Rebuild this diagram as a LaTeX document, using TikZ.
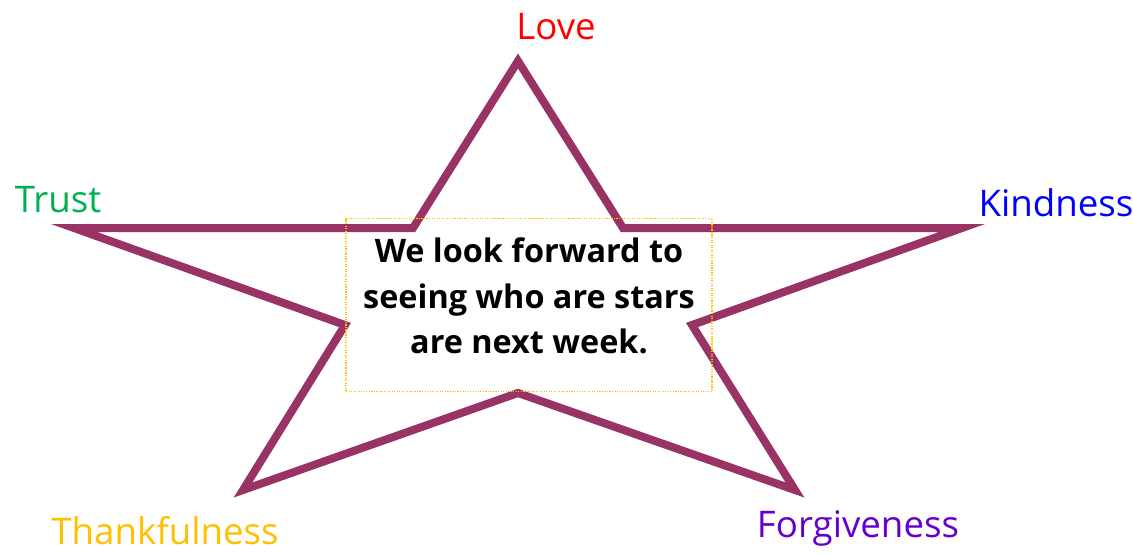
\documentclass[tikz,border=0pt]{standalone}
\usepackage{fontspec}
\setmainfont{Open Sans}
\definecolor{starcol}{HTML}{993366}
\definecolor{boxcol}{HTML}{FFC000}
\definecolor{lovecol}{HTML}{FF0000}
\definecolor{trustcol}{HTML}{00B050}
\definecolor{kindcol}{HTML}{0000FF}
\definecolor{thankcol}{HTML}{FFC000}
\definecolor{forgcol}{HTML}{6600CC}
\begin{document}
\begin{tikzpicture}[x=0.75pt,y=-0.75pt,
  lbl/.style={inner sep=0pt,anchor=center,font=\fontsize{27.5}{32}\selectfont},
  msg/.style={inner sep=0pt,align=center,font=\fontsize{24.3}{34}\selectfont\bfseries},
  starline/.style={draw=starcol,line width=6pt,line join=miter,miter limit=20}]
\useasboundingbox (0,0) rectangle (1133,554);
\coordinate (tA) at (518,61);
\coordinate (iB) at (623,228);
\coordinate (tC) at (962,228);
\coordinate (iD) at (692,325);
\coordinate (tE) at (795,490);
\coordinate (iF) at (518,393);
\coordinate (tG) at (243,490);
\coordinate (iH) at (345,325);
\coordinate (tI) at (74,228);
\coordinate (iJ) at (413,228);
\draw[starline] (tA) -- (iB) -- (tC) -- (iD) -- (tE) -- (iF) -- (tG) -- (iH) -- (tI) -- (iJ) -- cycle;
\node[draw=boxcol,densely dotted,line width=0.9pt,minimum width=274.5pt,minimum height=129.75pt,inner sep=0pt] (box) at (529,305) {};
\node[msg] (text) at (529,296) {We look forward to\\seeing who are stars\\are next week.};
\node[lbl,text=lovecol] (love) at (556,27) {Love};
\node[lbl,text=trustcol] (trust) at (58,200) {Trust};
\node[lbl,text=kindcol] (kind) at (1056,203) {Kindness};
\node[lbl,text=thankcol] (thank) at (165,531) {Thankfulness};
\node[lbl,text=forgcol] (forg) at (858,528) {Forgiveness};
\end{tikzpicture}
\end{document}
